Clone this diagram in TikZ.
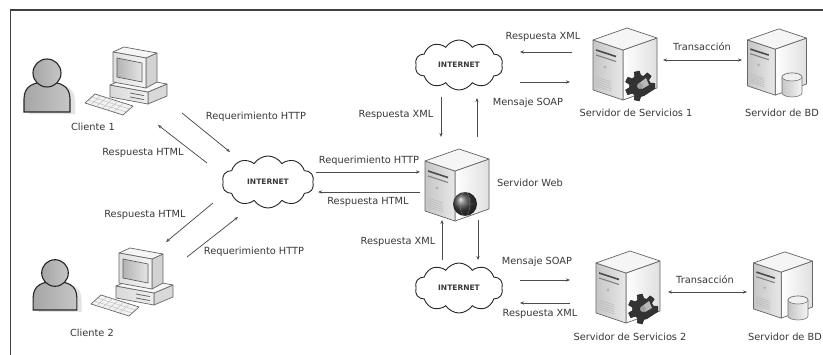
\documentclass[tikz,border=0pt]{standalone}
\usepackage{fontspec}
\setmainfont{DejaVu Sans}
\usetikzlibrary{shapes.symbols,arrows.meta,calc}

\definecolor{ink}{gray}{0.22}
\definecolor{edge}{gray}{0.30}

\tikzset{
  lbl/.style={font=\fontsize{9.8}{11}\selectfont, text=ink, inner sep=0pt},
  net/.style={cloud, cloud puffs=10, cloud puff arc=115, aspect=1.9,
    draw=black!85, line width=0.9pt, fill=white, inner sep=0pt,
    minimum width=88pt, minimum height=50pt,
    font=\bfseries\fontsize{7.5}{8}\selectfont, text=ink},
  flow/.style={->, draw=edge, line width=0.75pt},
  both/.style={<->, draw=edge, line width=0.75pt},
  frame/.style={draw=black!75, line width=1.4pt},
  srvline/.style={draw=black!60, line width=0.7pt, line join=round},
  % tower server drawn in isometric view, origin at its middle
  server/.pic={
    \path[srvline, left color=white, right color=gray!25]
      (-2,-14) -- (32,-26) -- (32,24) -- (-2,36) -- cycle;
    \path[srvline, left color=gray!45, right color=gray!18]
      (-32,-24) -- (-2,-14) -- (-2,36) -- (-32,26) -- cycle;
    \path[srvline, fill=gray!8]
      (-32,-24) -- (2,-36) -- (32,-26) -- (-2,-14) -- cycle;
    \draw[black!70, line width=1.6pt] (-29,-14) -- (-9,-7.5);
    \draw[black!50, line width=1.1pt] (-29,-9) -- (-9,-2.5);
    \fill[gray!60] (-20,3) circle (1.6pt);
    \foreach \k in {0,...,4}
      \draw[gray!55, line width=0.5pt] (-29,{13+2.2*\k}) -- (-14,{18+2.2*\k});
  },
  gearbadge/.pic={
    \filldraw[fill=gray!40!black, draw=black!85, line width=0.5pt, line join=round]
      ({-10}:15pt) \foreach \a in {0,51.43,...,308}
        { -- ({\a-10}:15pt) -- ({\a+10}:15pt) -- ({\a+17}:10.5pt) -- ({\a+34}:10.5pt) } -- cycle;
    \fill[gray!55] (-2pt,2pt) -- (6pt,8pt) -- (9pt,1pt) -- (2pt,-3pt) -- cycle;
    \fill[gray!75] (0,0) circle (3pt);
  },
  globebadge/.pic={
    \shade[ball color=gray!55!black] (0,0) circle (12pt);
    \draw[white, opacity=0.3, line width=0.4pt] (0,0) ellipse (5pt and 12pt)
      (-12pt,0) -- (12pt,0);
  },
  dbbadge/.pic={
    \path[draw=black!55, line width=0.6pt, left color=gray!45, right color=gray!8]
      (-10pt,8pt) -- (-10pt,-8pt) arc[start angle=180, end angle=360, x radius=10pt, y radius=4pt]
      -- (10pt,8pt) arc[start angle=0, end angle=180, x radius=10pt, y radius=4pt] -- cycle;
    \draw[black!55, line width=0.6pt, fill=gray!12] (0,8pt) ellipse [x radius=10pt, y radius=4pt];
  },
  % user silhouette, origin at the centre of the head
  person/.pic={
    \fill[gray!22] (-18,41) -- (-18,28) .. controls (-18,14) and (-8,11) .. (4,11)
      .. controls (17,11) and (28,14) .. (28,28) -- (28,41) -- cycle;
    \path[draw=black!85, line width=1.1pt, left color=gray!70, right color=gray!45]
      (-23,39) -- (-23,26) .. controls (-23,12) and (-12,9) .. (0,9)
      .. controls (12,9) and (23,12) .. (23,26) -- (23,39) -- cycle;
    \path[draw=black!85, line width=1.1pt, left color=gray!70, right color=gray!45]
      (0,0) circle (14pt);
  },
  % desktop computer with CRT monitor and keyboard
  computer/.pic={
    \path[srvline, fill=gray!30] (38,42) -- (57,34) -- (57,46) -- (38,54) -- cycle;
    \path[srvline, left color=gray!30, right color=gray!12] (0,35) -- (38,42) -- (38,54) -- (0,47) -- cycle;
    \path[srvline, fill=gray!6] (0,35) -- (19,27) -- (57,34) -- (38,42) -- cycle;
    \draw[black!60, line width=0.8pt] (20,43) -- (34,45.6);
    \draw[black!60, line width=0.8pt] (20,47) -- (34,49.6);
    \path[srvline, fill=gray!35] (36,8) -- (47,3) -- (47,32) -- (36,38) -- cycle;
    \path[srvline, fill=gray!8] (3,2) -- (14,-3) -- (47,3) -- (36,8) -- cycle;
    \path[srvline, left color=gray!25, right color=gray!8] (3,2) -- (36,8) -- (36,38) -- (3,32) -- cycle;
    \path[draw=black!65, line width=0.6pt, left color=gray!60, right color=gray!20]
      (7,8) -- (32,13) -- (32,32) -- (7,27) -- cycle;
    \coordinate (-ka) at (-25,53); \coordinate (-kb) at (-15,44);
    \coordinate (-kc) at (23,56);  \coordinate (-kd) at (13,65);
    \path[srvline, fill=gray!10] (-ka) -- (-kb) -- (-kc) -- (-kd) -- cycle;
    \foreach \t in {0.33,0.66}
      \draw[gray!55, line width=0.4pt] ($(-ka)!\t!(-kb)$) -- ($(-kd)!\t!(-kc)$);
    \foreach \t in {0.15,0.3,...,0.9}
      \draw[gray!55, line width=0.4pt] ($(-ka)!\t!(-kd)$) -- ($(-kb)!\t!(-kc)$);
  },
}

\begin{document}
\begin{tikzpicture}[x=1pt, y=-1pt, >={Stealth[length=4pt,width=3.2pt]}]
\useasboundingbox (0,0) rectangle (823,355);
\fill[white] (0,0) rectangle (823,355);

% frame
\draw[frame] (10.5,355) -- (10.5,10) -- (823,10);

% clients
\pic at (47,73) {person};
\pic[scale=0.95] at (55,273) {person};
\pic (pcA) at (110,50) {computer};
\pic (pcB) at (116,251) {computer};
\node[lbl] (cli1) at (93,127) {Cliente 1};
\node[lbl] (cli2) at (92,333) {Cliente 2};

% internet clouds
\node[net, minimum width=92pt, minimum height=52pt] (netL) at (268,182) {INTERNET};
\node[net] (netT) at (459,65) {INTERNET};
\node[net] (netB) at (459,288) {INTERNET};

% servers
\pic at (457,185) {server};
\pic at (465,204) {globebadge};
\node[lbl] (web) at (530,183) {Servidor Web};

\pic at (625,64) {server};
\pic at (640,86) {gearbadge};
\node[lbl] (svc1) at (636,113) {Servidor de Servicios 1};

\pic at (628,287) {server};
\pic at (643,309) {gearbadge};
\node[lbl] (svc2) at (630,337) {Servidor de Servicios 2};

\pic[scale=0.92] at (777,62) {server};
\pic at (792,85) {dbbadge};
\node[lbl] (db1) at (782,113) {Servidor de BD};

\pic[scale=0.92] at (783,285) {server};
\pic at (798,308) {dbbadge};
\node[lbl] (db2) at (785,337) {Servidor de BD};

% connector end points
\coordinate (rqAs) at (182,113); \coordinate (rqAe) at (230,152);
\coordinate (rsAs) at (207,163); \coordinate (rsAe) at (158,125);
\coordinate (rsBs) at (213,203); \coordinate (rsBe) at (166,242);
\coordinate (rqBs) at (187,257); \coordinate (rqBe) at (238,217);
\coordinate (rqWs) at (316,172); \coordinate (rqWe) at (420,172);
\coordinate (rsWs) at (420,192); \coordinate (rsWe) at (318,192);
\coordinate (xTs) at (441,97);   \coordinate (xTe) at (441,137);
\coordinate (sTs) at (477,137);  \coordinate (sTe) at (477,98);
\coordinate (x1s) at (572,52);   \coordinate (x1e) at (520,52);
\coordinate (s1s) at (520,82);   \coordinate (s1e) at (570,82);
\coordinate (xBs) at (442,260);  \coordinate (xBe) at (442,220);
\coordinate (sBs) at (478,220);  \coordinate (sBe) at (478,260);
\coordinate (s2s) at (520,280);  \coordinate (s2e) at (570,280);
\coordinate (x2s) at (570,303);  \coordinate (x2e) at (520,303);
\coordinate (t1s) at (663,60);   \coordinate (t1e) at (742,60);
\coordinate (t2s) at (668,292);  \coordinate (t2e) at (747,292);

% connectors
\draw[flow] (rqAs) -- (rqAe);
\draw[flow] (rsAs) -- (rsAe);
\draw[flow] (rsBs) -- (rsBe);
\draw[flow] (rqBs) -- (rqBe);
\draw[flow] (rqWs) -- (rqWe);
\draw[flow] (rsWs) -- (rsWe);
\draw[flow] (xTs) -- (xTe);
\draw[flow] (sTs) -- (sTe);
\draw[flow] (x1s) -- (x1e);
\draw[flow] (s1s) -- (s1e);
\draw[flow] (xBs) -- (xBe);
\draw[flow] (sBs) -- (sBe);
\draw[flow] (s2s) -- (s2e);
\draw[flow] (x2s) -- (x2e);
\draw[both] (t1s) -- (t1e);
\draw[both] (t2s) -- (t2e);

% connector labels
\node[lbl] (lrqA) at (256,117) {Requerimiento HTTP};
\node[lbl] (lrsA) at (143,153) {Respuesta HTML};
\node[lbl] (lrsB) at (145,215) {Respuesta HTML};
\node[lbl] (lrqB) at (254,252) {Requerimiento HTTP};
\node[lbl] (lrqW) at (369,161) {Requerimiento HTTP};
\node[lbl] (lrsW) at (368,202) {Respuesta HTML};
\node[lbl] (lxT) at (396,115) {Respuesta XML};
\node[lbl] (lsT) at (528,103) {Mensaje SOAP};
\node[lbl] (lx1) at (543,37) {Respuesta XML};
\node[lbl] (lxB) at (398,242) {Respuesta XML};
\node[lbl] (lsB) at (537,262) {Mensaje SOAP};
\node[lbl] (lx2) at (540,314) {Respuesta XML};
\node[lbl] (lt1) at (702,47) {Transacción};
\node[lbl] (lt2) at (705,280) {Transacción};
\end{tikzpicture}
\end{document}
